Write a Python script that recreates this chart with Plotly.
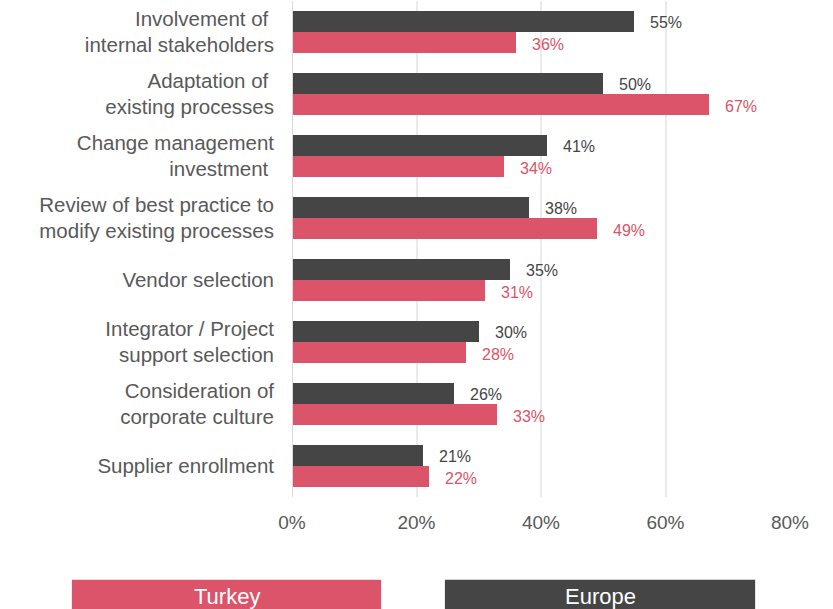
import plotly.graph_objects as go

categories = [
    "Involvement of <br>internal stakeholders",
    "Adaptation of <br>existing processes",
    "Change management<br>investment ",
    "Review of best practice to<br>modify existing processes",
    "Vendor selection",
    "Integrator / Project<br>support selection",
    "Consideration of<br>corporate culture",
    "Supplier enrollment",
]
europe = [55, 50, 41, 38, 35, 30, 26, 21]
turkey = [36, 67, 34, 49, 31, 28, 33, 22]
x_ticks = [0, 20, 40, 60, 80]
x_tick_labels = ["0%", "20%", "40%", "60%", "80%"]

DARK = "#454545"
PINK = "#DB5469"
TEXT = "#595959"
FONT = "Liberation Sans, Arial, sans-serif"

pos = list(range(len(categories)))
off = 0.17
bar_w = 0.33
y_eu = [p - off for p in pos]
y_tr = [p + off for p in pos]

fig = go.Figure()
fig.add_trace(go.Bar(
    x=europe, y=y_eu, orientation="h", width=bar_w, name="Europe",
    marker=dict(color=DARK, line=dict(width=0)), showlegend=False,
))
fig.add_trace(go.Bar(
    x=turkey, y=y_tr, orientation="h", width=bar_w, name="Turkey",
    marker=dict(color=PINK, line=dict(width=0)), showlegend=False,
))

annotations = []
for v, y in zip(europe, y_eu):
    annotations.append(dict(x=v, y=y, text=f"{v}%", showarrow=False, xanchor="left",
                            xshift=14, yshift=-1, font=dict(family=FONT, size=16, color=DARK)))
for v, y in zip(turkey, y_tr):
    annotations.append(dict(x=v, y=y, text=f"{v}%", showarrow=False, xanchor="left",
                            xshift=14, yshift=-2, font=dict(family=FONT, size=16, color=PINK)))

# legend boxes below the plot
legend_items = [("Turkey", PINK, -0.442, 0.179), ("Europe", DARK, 0.307, 0.930)]
shapes = []
for name, col, x0, x1 in legend_items:
    shapes.append(dict(type="rect", xref="paper", yref="paper", x0=x0, x1=x1,
                       y0=-0.25, y1=-0.167, fillcolor=col, line=dict(width=0), layer="above"))
    annotations.append(dict(xref="paper", yref="paper", x=(x0 + x1) / 2, y=-0.2016,
                            text=name, showarrow=False, xanchor="center", yanchor="middle",
                            font=dict(family=FONT, size=22, color="white")))

fig.update_layout(
    width=833, height=609,
    margin=dict(l=292, r=43, t=1, b=112),
    paper_bgcolor="white", plot_bgcolor="white",
    barmode="overlay",
    bargap=0,
    font=dict(family=FONT, color=TEXT),
    xaxis=dict(
        range=[0, 80], tickvals=x_ticks, ticktext=x_tick_labels,
        showgrid=True, gridcolor="#EAEAEA", gridwidth=1.5,
        zeroline=False, showline=False,
        tickfont=dict(family=FONT, size=19, color=TEXT),
        ticklabelstandoff=12, fixedrange=True,
    ),
    yaxis=dict(
        range=[7.5, -0.5], tickvals=pos, ticktext=categories,
        showgrid=False, zeroline=False,
        showline=False,
        tickfont=dict(family=FONT, size=20.5, color=TEXT),
        ticklabelstandoff=17, fixedrange=True,
    ),
    shapes=shapes + [dict(type="line", xref="x", yref="paper", x0=0, x1=0, y0=0, y1=1,
                          line=dict(color="#D9D9D9", width=2), layer="above")],
    annotations=annotations,
)

fig.write_html("out.html")
